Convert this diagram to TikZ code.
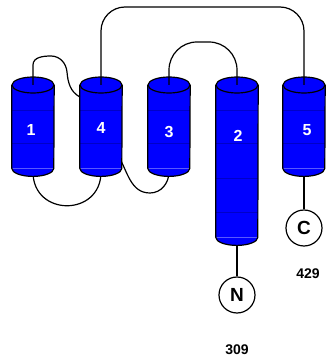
\documentclass[tikz,border=0pt]{standalone}
\usepackage{fontspec}
\setmainfont{Liberation Sans}
\usetikzlibrary{shapes.geometric,positioning,calc}
\pgfdeclarelayer{background}
\pgfsetlayers{background,main}

\begin{document}
\begin{tikzpicture}[x=1pt,y=1pt,
    helix/.style={rectangle,fill=blue,minimum width=42pt,inner sep=0pt,anchor=north},
    rim/.style={draw=black,line width=1.2pt},
    hnum/.style={text=white,font=\bfseries\fontsize{16}{16}\selectfont},
    term/.style={circle,draw,line width=1.2pt,minimum size=36pt,inner sep=0pt,
      font=\bfseries\fontsize{19}{19}\selectfont},
    resnum/.style={font=\bfseries\fontsize{14}{14}\selectfont},
    linker/.style={draw,line width=1.2pt},
    seg/.style={draw=blue!78!black,line width=0.4pt}]
   \useasboundingbox (0,0) rectangle (328,362);

   % loops below, behind the helices
   \draw[linker] (33,190) .. controls +(0,-45) and +(0,-45) .. (101,190);
   \draw[linker] (118,207) to[out=-60,in=180] (150,169) to[out=0,in=-90] (169,190);

   % helix bodies, from top face centre to bottom face centre
   \node [helix,minimum height=83pt]  (h1) at (33,277)  {};
   \node [helix,minimum height=83pt]  (h4) at (101,277) {};
   \node [helix,minimum height=83pt]  (h3) at (169,277) {};
   \node [helix,minimum height=152pt] (h2) at (237,277) {};
   \node [helix,minimum height=83pt]  (h5) at (304,277) {};

   % turns on the helices
   \foreach \h in {1,3,4,5}
     \foreach \y in {252,219}
       \draw[seg] (h\h.west |- 0,\y) -- (h\h.east |- 0,\y);
   \foreach \y in {252,219,184,150}
     \draw[seg] (h2.west |- 0,\y) -- (h2.east |- 0,\y);

   % cylinder rims
   \foreach \h in {1,...,5} {
     \fill[blue] (h\h.south west) arc[start angle=180,end angle=360,x radius=21pt,y radius=8pt];
     \draw[rim] (h\h.north west) -- (h\h.south west)
        arc[start angle=180,end angle=360,x radius=21pt,y radius=8pt] -- (h\h.north east);
     \draw[rim,fill=blue] (h\h.north) ellipse [x radius=21pt,y radius=8pt];
   }

   \node [hnum] (n1) at (31,232)  {1};
   \node [hnum] (n4) at (101,234) {4};
   \node [hnum] (n3) at (169,230) {3};
   \node [hnum] (n2) at (238,226) {2};
   \node [hnum] (n5) at (307,232) {5};

   % loops above the membrane
   \draw[linker] (h1.north) -- ++(0,20) to[out=90,in=180] (51,306)
      to[out=0,in=95] (67,290) to[out=-85,in=150] (h4.west |- 0,265);
   \draw[linker,rounded corners=24pt] (h4.north) -- ++(0,78) -| (h5.north);
   \draw[linker,rounded corners=28pt] (h3.north) -- ++(0,43) -| (h2.north);

   % termini
   \node [term] (N) at (237,67)  {N};
   \node [term] (C) at (304,134) {C};
   \draw[linker] ($(h2.south)+(0,-8)$) -- (N);
   \draw[linker] ($(h5.south)+(0,-8)$) -- (C);
   \node [resnum,below=28pt of N] (nres) {309};
   \node [resnum,below=19pt of C,xshift=4pt] (cres) {429};
\end{tikzpicture}
\end{document}
